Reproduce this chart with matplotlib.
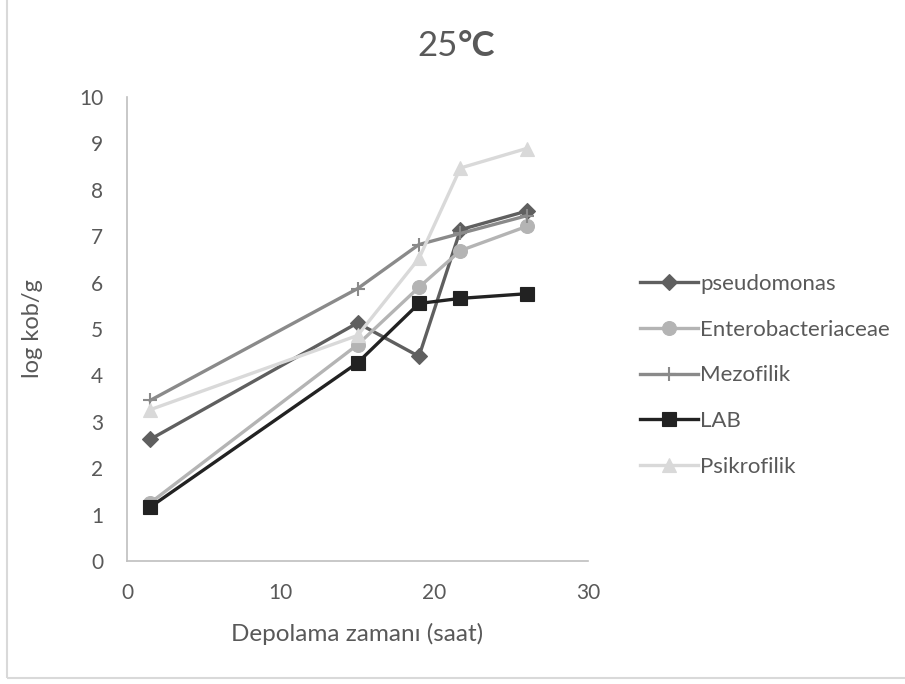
import matplotlib
matplotlib.use("Agg")
import matplotlib.pyplot as plt
from matplotlib.patches import Rectangle

plt.rcParams['font.family'] = ['Lato', 'DejaVu Sans']

# Storage time (hours) and log cfu/g counts per group
time_h = [1.5, 15, 19, 21.7, 26]
pseudomonas = [2.62, 5.13, 4.41, 7.14, 7.54]
enterobacteriaceae = [1.25, 4.66, 5.90, 6.69, 7.21]
mezofilik = [3.46, 5.87, 6.82, 7.06, 7.44]
lab = [1.16, 4.27, 5.55, 5.66, 5.76]
psikrofilik = [3.26, 4.86, 6.52, 8.47, 8.89]

series = [
    ("pseudomonas", pseudomonas, "#5f5f5f", "D", 8.5),
    ("Enterobacteriaceae", enterobacteriaceae, "#b4b4b4", "o", 10),
    ("Mezofilik", mezofilik, "#8a8a8a", "+", 10),
    ("LAB", lab, "#222222", "s", 10),
    ("Psikrofilik", psikrofilik, "#d9d9d9", "^", 10),
]

txt = "#595959"
fig = plt.figure(figsize=(9.05, 6.84), dpi=100)
fig.patch.set_facecolor("white")

# outer chart frame
fig.patches.append(Rectangle((7 / 905, 1 - 678 / 684), 1.2, 1.2,
                             transform=fig.transFigure, fill=False,
                             edgecolor="#d9d9d9", linewidth=1.5))

ax = fig.add_axes([127 / 905, 1 - 561 / 684, (588 - 127) / 905, (561 - 97) / 684])

handles = []
for name, vals, col, mk, ms in series:
    h, = ax.plot(time_h, vals, color=col, linewidth=2.4, marker=mk,
                 markersize=ms, markeredgewidth=1.5 if mk == "+" else 0.8,
                 markeredgecolor=col, markerfacecolor=col, label=name,
                 clip_on=False)
    handles.append(h)

ax.set_xlim(0, 30)
ax.set_ylim(0, 10)
ax.set_xticks([0, 10, 20, 30])
ax.set_yticks(range(0, 11))
for s in ("top", "right"):
    ax.spines[s].set_visible(False)
for s in ("left", "bottom"):
    ax.spines[s].set_color("#bfbfbf")
    ax.spines[s].set_linewidth(1.2)
ax.tick_params(length=0, labelsize=15, labelcolor=txt)
ax.tick_params(axis="x", pad=16)
ax.tick_params(axis="y", pad=17)

ax.set_xlabel("Depolama zamanı (saat)", fontsize=17.5, color=txt, labelpad=14)
ax.set_ylabel("log kob/g", fontsize=17, color=txt, labelpad=26)

fig.text(458 / 905, 1 - 46 / 684, "25", fontsize=25, color=txt,
         ha="right", va="center")
fig.text(458 / 905, 1 - 46 / 684, "°C", fontsize=25, color=txt,
         fontweight="bold", ha="left", va="center")

fig.legend(handles=handles, loc="upper left",
           bbox_to_anchor=(631 / 905, 1 - 265 / 684), frameon=False,
           fontsize=16, labelcolor=txt, handlelength=2.6,
           handletextpad=0.12, labelspacing=1.16, borderaxespad=0)

fig.savefig("out.png", dpi=100, facecolor="white")
